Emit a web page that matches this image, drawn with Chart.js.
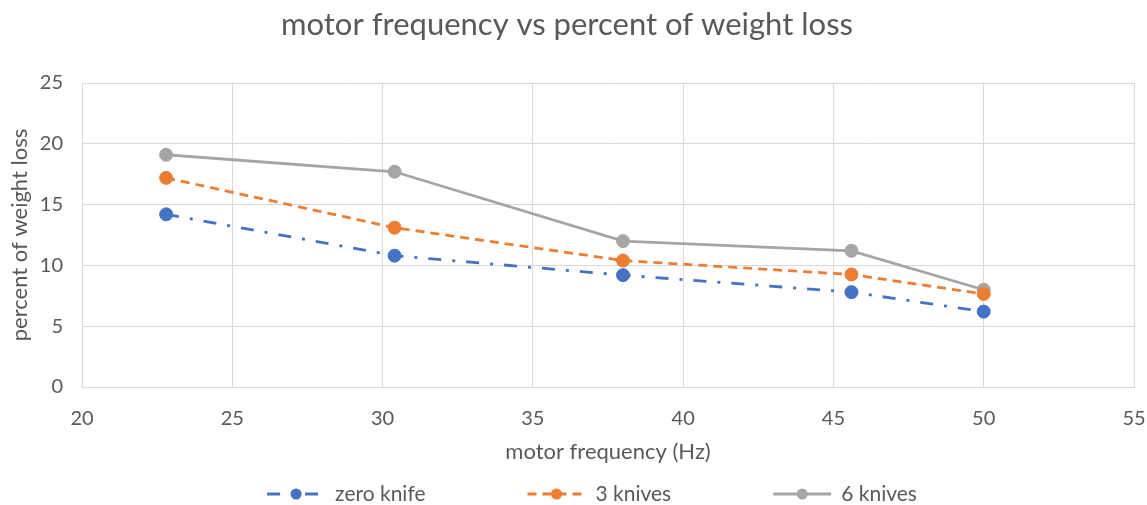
<!DOCTYPE html>
<html><head><meta charset="utf-8">
<script src="https://cdn.jsdelivr.net/npm/chart.js@4.4.1/dist/chart.umd.min.js"></script>
<style>html,body{margin:0;padding:0;background:#fff;}</style>
</head><body>
<canvas id="c" width="1147" height="505"></canvas>
<script>
// ---- data ----
const frequencies = [22.8, 30.4, 38.0, 45.6, 50.0];
const zeroKnife   = [14.2, 10.8, 9.2, 7.8, 6.2];
const threeKnives = [17.2, 13.1, 10.4, 9.25, 7.65];
const sixKnives   = [19.1, 17.7, 12.0, 11.2, 8.0];
const seriesNames = ['zero knife', '3 knives', '6 knives'];
const xTickValues = [20, 25, 30, 35, 40, 45, 50, 55];
const yTickValues = [0, 5, 10, 15, 20, 25];
const chartTitle = 'motor frequency vs percent of weight loss';
const xTitle = 'motor frequency (Hz)';
const yTitle = 'percent of weight loss';

const FONT = 'Lato';
const TEXT = '#595959';
const GRID = '#D9D9D9';

function pts(arr){ return frequencies.map((f,i)=>({x:f, y:arr[i]})); }

const legendPlugin = {
  id: 'excelLegend',
  afterDraw(chart){
    const ctx = chart.ctx;
    ctx.save();
    ctx.font = '21px ' + FONT;
    const sampleW = 58, textOff = 68, gap = 102, cy = 494, centerX = 592;
    const items = chart.data.datasets.map(ds => ({ds, w: textOff + ctx.measureText(ds.label).width}));
    const total = items.reduce((s,it)=>s+it.w,0) + gap*(items.length-1);
    let x = centerX - total/2;
    items.forEach(({ds,w}) => {
      ctx.strokeStyle = ds.borderColor;
      ctx.lineWidth = ds.borderWidth;
      ctx.setLineDash(ds.borderDash || []);
      ctx.beginPath(); ctx.moveTo(x, cy); ctx.lineTo(x+sampleW, cy); ctx.stroke();
      ctx.setLineDash([]);
      ctx.fillStyle = ds.pointBackgroundColor;
      ctx.beginPath(); ctx.arc(x+sampleW/2, cy, 5.5, 0, Math.PI*2); ctx.fill();
      ctx.fillStyle = TEXT; ctx.textBaseline = 'middle'; ctx.textAlign = 'left';
      ctx.fillText(ds.label, x+textOff, cy);
      x += w + gap;
    });
    ctx.restore();
  }
};

function series(label, arr, color, dash){
  return {
    label, data: pts(arr),
    borderColor: color, backgroundColor: color,
    pointBackgroundColor: color, pointBorderColor: color,
    borderWidth: 2.8, borderDash: dash, pointRadius: 6.5, pointBorderWidth: 1,
    tension: 0, fill: false
  };
}

new Chart(document.getElementById('c'), {
  type: 'line',
  data: { datasets: [
    series(seriesNames[0], zeroKnife, '#4472C4', [13, 11, 3, 11]),
    series(seriesNames[1], threeKnives, '#ED7D31', [9, 6]),
    series(seriesNames[2], sixKnives, '#A5A5A5', [])
  ]},
  options: {
    responsive: false, animation: false, devicePixelRatio: 1,
    layout: { padding: { left: 0, right: 13, top: 0, bottom: 40 } },
    plugins: {
      legend: { display: false },
      tooltip: { enabled: false },
      title: { display: true, text: chartTitle, color: TEXT,
        font: { family: FONT, size: 31, weight: 'normal' },
        padding: { top: 6.4, bottom: 39.4 } }
    },
    scales: {
      x: {
        type: 'linear', min: 20, max: 55,
        afterBuildTicks: s => { s.ticks = xTickValues.map(v => ({value: v})); },
        grid: { color: GRID, drawTicks: false },
        border: { color: GRID },
        ticks: { padding: 20, color: TEXT, font: { family: FONT, size: 20 } },
        title: { display: true, text: xTitle, color: TEXT, font: { family: FONT, size: 22 }, padding: { top: 0, bottom: 0 } },
        afterFit: s => { s.height = 78; s.paddingLeft = 0; s.paddingRight = 0; }
      },
      y: {
        type: 'linear', min: 0, max: 25,
        afterBuildTicks: s => { s.ticks = yTickValues.map(v => ({value: v})); },
        grid: { color: GRID, drawTicks: false },
        border: { color: GRID },
        ticks: { padding: 19, color: TEXT, font: { family: FONT, size: 20 } },
        title: { display: true, text: yTitle, color: TEXT, font: { family: FONT, size: 22 }, padding: { top: 7, bottom: 0 } },
        afterFit: s => { s.width = 82; s.paddingTop = 0; s.paddingBottom = 0; }
      }
    }
  },
  plugins: [legendPlugin]
});
</script>
</body></html>
